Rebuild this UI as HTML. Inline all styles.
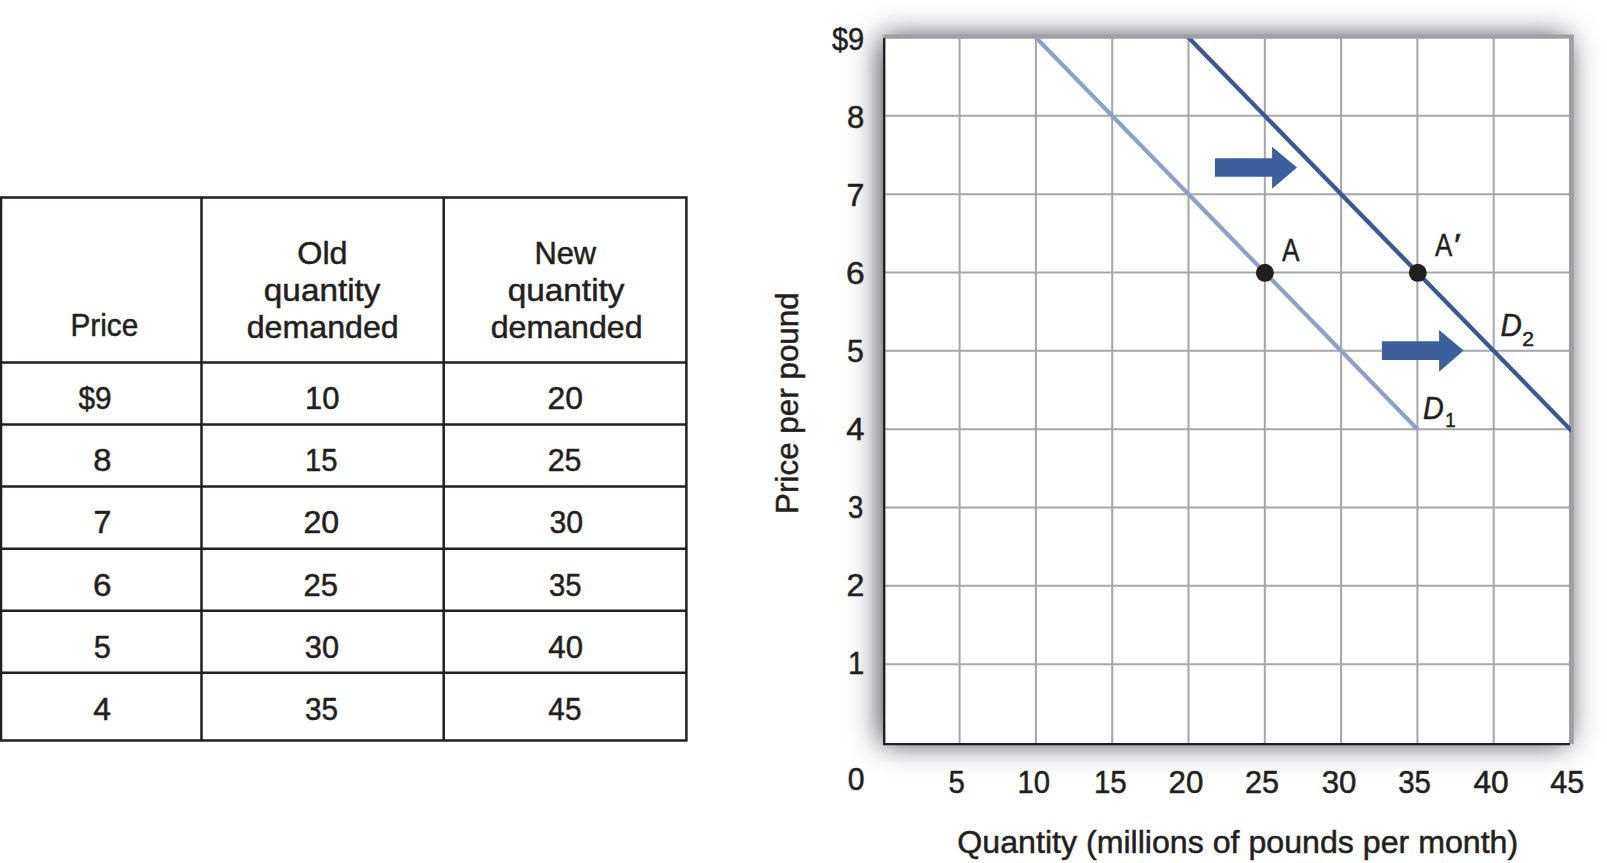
<!DOCTYPE html>
<html lang="en"><head><meta charset="utf-8"><title>Change in demand</title>
<style>
html,body{margin:0;padding:0;background:#fff;}
body{width:1607px;height:863px;overflow:hidden;position:relative;font-family:"Liberation Sans", sans-serif;}
svg{position:absolute;left:0;top:0;display:block}
text{font-family:"Liberation Sans", sans-serif;fill:#231f20;stroke:#231f20;stroke-width:0.5px;stroke-linejoin:round;}
</style></head><body>
<svg width="1607" height="863" viewBox="0 0 1607 863">
<defs><filter id="sh" x="-10%" y="-10%" width="120%" height="120%" color-interpolation-filters="sRGB"><feGaussianBlur stdDeviation="15"/></filter><clipPath id="pc"><rect x="883.3" y="38.6" width="687.7" height="705.4"/></clipPath></defs>
<rect x="880.8" y="37.6" width="687.0" height="705.4" fill="#00000e" fill-opacity="0.76" filter="url(#sh)"/>
<rect x="883.3" y="38.6" width="685.7" height="705.4" fill="#fff"/>
<path d="M883.3 664.17H1569.0M883.3 585.84H1569.0M883.3 507.51H1569.0M883.3 429.18H1569.0M883.3 350.85H1569.0M883.3 272.52H1569.0M883.3 194.19H1569.0M883.3 115.86H1569.0M959.60 38.6V744.0M1035.90 38.6V744.0M1112.20 38.6V744.0M1188.50 38.6V744.0M1264.80 38.6V744.0M1341.10 38.6V744.0M1417.40 38.6V744.0M1493.70 38.6V744.0" stroke="#a6a6a6" stroke-width="2" fill="none"/>
<path d="M883.3 34.6H1573.8V744.0H1569.0V38.6H883.3Z" fill="#a0a0a4"/>
<g clip-path="url(#pc)"><line x1="1031.90" y1="33.42" x2="1417.40" y2="429.18" stroke="#8ba1cc" stroke-width="4.2"/><line x1="1184.50" y1="33.42" x2="1574.00" y2="433.29" stroke="#3a5893" stroke-width="4.3"/></g>
<path d="M884.2 37.9V745.3M883 744.15H1569.9" stroke="#231f20" stroke-width="2.4" fill="none"/>
<path d="M1214.9 158.3H1272.1V146.7L1297 167.6L1272.1 188.7V176.8H1214.9Z" fill="#3c5f9e"/>
<path d="M1381.9 341.3H1439.1V329.9L1463.6 350.6L1439.1 371.7V360.1H1381.9Z" fill="#3c5f9e"/>
<circle cx="1264.9" cy="272.8" r="9" fill="#231f20"/><circle cx="1417.8" cy="272.8" r="9" fill="#231f20"/>
<path d="M1.0 196.2V741.6M201.5 196.2V741.6M443.7 196.2V741.6M686.4 196.2V741.6M0 197.5H687.6M0 362.4H687.6M0 424.5H687.6M0 486.6H687.6M0 548.7H687.6M0 610.8H687.6M0 672.8H687.6M0 740.4H687.6" stroke="#231f20" stroke-width="2.5" fill="none"/>
<text transform="translate(70.38 336.40) scale(0.9458 1)" font-size="31.5">Price</text>
<text transform="translate(297.28 263.70) scale(1.0254 1)" font-size="31.5">Old</text>
<text transform="translate(263.85 300.90) scale(1.0580 1)" font-size="31.5">quantity</text>
<text transform="translate(246.72 338.20) scale(1.0216 1)" font-size="31.5">demanded</text>
<text transform="translate(534.42 263.70) scale(0.9802 1)" font-size="31.5">New</text>
<text transform="translate(507.65 300.90) scale(1.0597 1)" font-size="31.5">quantity</text>
<text transform="translate(490.63 338.20) scale(1.0216 1)" font-size="31.5">demanded</text>
<text transform="translate(78.41 409.20) scale(0.9773 1)" font-size="30.5">$9</text>
<text transform="translate(93.18 471.30) scale(1.0756 1)" font-size="30.5">8</text>
<text transform="translate(93.53 533.40) scale(1.0539 1)" font-size="30.5">7</text>
<text transform="translate(92.89 595.50) scale(1.0907 1)" font-size="30.5">6</text>
<text transform="translate(93.73 657.60) scale(1.0115 1)" font-size="30.5">5</text>
<text transform="translate(93.36 719.70) scale(1.0454 1)" font-size="30.5">4</text>
<text transform="translate(305.02 409.20) scale(1.0155 1)" font-size="30.5">10</text>
<text transform="translate(305.05 471.30) scale(0.9596 1)" font-size="30.5">15</text>
<text transform="translate(303.54 533.40) scale(1.0506 1)" font-size="30.5">20</text>
<text transform="translate(303.40 595.50) scale(1.0207 1)" font-size="30.5">25</text>
<text transform="translate(304.87 657.60) scale(1.0086 1)" font-size="30.5">30</text>
<text transform="translate(304.91 719.70) scale(0.9734 1)" font-size="30.5">35</text>
<text transform="translate(547.56 409.20) scale(1.0451 1)" font-size="30.5">20</text>
<text transform="translate(547.64 471.30) scale(0.9979 1)" font-size="30.5">25</text>
<text transform="translate(549.41 533.40) scale(0.9900 1)" font-size="30.5">30</text>
<text transform="translate(548.93 595.50) scale(0.9604 1)" font-size="30.5">35</text>
<text transform="translate(548.34 657.60) scale(1.0205 1)" font-size="30.5">40</text>
<text transform="translate(548.36 719.70) scale(0.9752 1)" font-size="30.5">45</text>
<text transform="translate(831.97 49.60) scale(0.9506 1)" font-size="30.5">$9</text>
<text transform="translate(847.05 127.60) scale(1.0192 1)" font-size="30.5">8</text>
<text transform="translate(846.53 205.70) scale(1.0539 1)" font-size="30.5">7</text>
<text transform="translate(846.12 283.80) scale(1.1013 1)" font-size="30.5">6</text>
<text transform="translate(847.03 361.90) scale(0.9913 1)" font-size="30.5">5</text>
<text transform="translate(846.36 440.00) scale(1.0707 1)" font-size="30.5">4</text>
<text transform="translate(847.91 518.10) scale(0.9007 1)" font-size="30.5">3</text>
<text transform="translate(846.55 596.20) scale(1.0530 1)" font-size="30.5">2</text>
<text transform="translate(847.88 674.30) scale(0.9600 1)" font-size="30.5">1</text>
<text transform="translate(847.71 789.80) scale(0.9893 1)" font-size="30.5">0</text>
<text transform="translate(948.61 793.40) scale(0.9647 1)" font-size="30.5">5</text>
<text transform="translate(1017.60 793.40) scale(0.9575 1)" font-size="30.5">10</text>
<text transform="translate(1093.89 793.40) scale(0.9711 1)" font-size="30.5">15</text>
<text transform="translate(1168.52 793.40) scale(1.0249 1)" font-size="30.5">20</text>
<text transform="translate(1245.09 793.40) scale(1.0041 1)" font-size="30.5">25</text>
<text transform="translate(1321.63 793.40) scale(1.0232 1)" font-size="30.5">30</text>
<text transform="translate(1398.20 793.40) scale(0.9658 1)" font-size="30.5">35</text>
<text transform="translate(1473.38 793.40) scale(1.0400 1)" font-size="30.5">40</text>
<text transform="translate(1550.15 793.40) scale(1.0022 1)" font-size="30.5">45</text>
<text transform="translate(957.37 852.60) scale(1.0205 1)" font-size="31.5">Quantity (millions of pounds per month)</text>
<text transform="translate(797.7 511.7) rotate(-90) translate(-2.18 0) scale(0.9970 1)" font-size="31.5">Price per pound</text>
<text transform="translate(1282.01 260.80) scale(0.8326 1)" font-size="31.5">A</text>
<text transform="translate(1435.01 255.90) scale(0.8233 1)" font-size="31.5">A</text>
<text transform="translate(1454.02 255.90) scale(1.1778 1)" font-size="31.5">′</text>
<text transform="translate(1500.40 336.40) scale(0.9365 1)" font-size="31.5" font-style="italic">D</text>
<text transform="translate(1522.19 346.00) scale(1.0811 1)" font-size="19.5">2</text>
<text transform="translate(1423.02 418.80) scale(0.9129 1)" font-size="31.5" font-style="italic">D</text>
<text transform="translate(1445.28 427.30) scale(0.9600 1)" font-size="19.5">1</text>
</svg>
</body></html>
